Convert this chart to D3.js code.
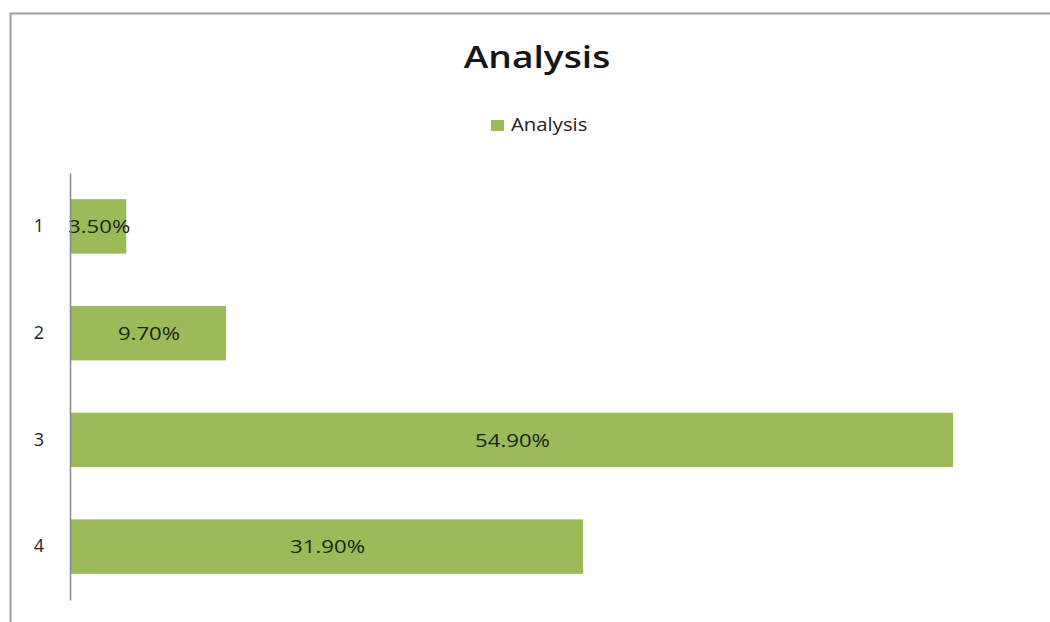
<!DOCTYPE html>
<html><head><meta charset="utf-8">
<script src="https://cdn.jsdelivr.net/npm/d3@7"></script>
<style>body{margin:0;background:#fff}svg{display:block}</style>
</head><body>
<script>
const categories = ["1","2","3","4"];
const values = [3.5, 9.7, 54.9, 31.9];
const valueLabels = ["3.50%","9.70%","54.90%","31.90%"];
const title = "Analysis";
const seriesName = "Analysis";

(function(){
const W = 1050, H = 622;
const svg = d3.select("body").append("svg").attr("width", W).attr("height", H);
const font = "'Open Sans', Lato, sans-serif";

// chart border
svg.append("path").attr("d","M10.5,700 L10.5,13.5 L1100,13.5")
  .attr("fill","none").attr("stroke","#a0a0a0").attr("stroke-width",2);

const pl = 70, pr = 1035, pt = 173, pb = 600;
const x = d3.scaleLinear().domain([0,60]).range([pl,pr]);
const y = d3.scaleBand().domain(categories).range([pt,pb]).paddingInner(0.49).paddingOuter(0.245);

svg.append("g").selectAll("rect").data(values).join("rect")
  .attr("x", x(0)).attr("y",(d,i)=>y(categories[i]))
  .attr("width", d=>x(d)-x(0)).attr("height", y.bandwidth())
  .attr("fill","#9bbb59");

svg.append("g").selectAll("text").data(values).join("text")
  .attr("transform",(d,i)=>`translate(${(x(0)+x(d))/2 + 1},${y(categories[i])+y.bandwidth()/2}) scale(1.2,1)`)
  .attr("dy","0.36em").attr("text-anchor","middle")
  .attr("font-family",font).attr("font-size",18.5).attr("fill","#1e2418")
  .text((d,i)=>valueLabels[i]);

const yAxis = d3.axisLeft(y).tickSize(0).tickPadding(26);
const ga = svg.append("g").attr("transform",`translate(${pl},0)`).call(yAxis);
ga.select(".domain").attr("stroke","#888").attr("stroke-width",1.5);
ga.selectAll("text").attr("font-family",font).attr("font-size",18).attr("fill","#222");

svg.append("text").attr("transform","translate(537,68) scale(1.24,1)").attr("text-anchor","middle")
  .attr("font-family",font).attr("font-weight",600).attr("font-size",30)
  .attr("fill","#161616").text(title);

svg.append("rect").attr("x",491).attr("y",120).attr("width",13).attr("height",11).attr("fill","#9bbb59");
svg.append("text").attr("transform","translate(511,131) scale(1.13,1)").attr("font-family",font).attr("font-size",18)
  .attr("fill","#222").text(seriesName);
})();
</script>
</body></html>
